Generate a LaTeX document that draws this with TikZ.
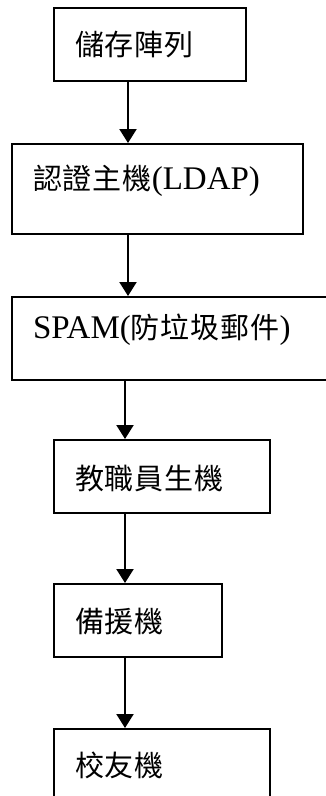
\documentclass[tikz,border=0pt]{standalone}
\usepackage{fontspec}
\setmainfont{Liberation Serif}
\newfontfamily\cjk[Scale=0.88,LetterSpace=3]{Noto Sans CJK TC}
\usetikzlibrary{arrows.meta}

\begin{document}
\begin{tikzpicture}[x=1pt,y=-1pt,
	box/.style={draw,line width=2pt,anchor=north west,align=left,inner xsep=21pt,inner ysep=0pt,font=\fontsize{33}{33}\selectfont},
	to/.style={-{Triangle[width=17pt,length=14pt]},line width=2.2pt}]
\fill[white] (0,0) rectangle (326,796);
\clip (0,0) rectangle (326,796);

\node[box,text width=150pt,text height=47pt,text depth=26pt] (sa) at (53,7) {\cjk 儲存陣列};
\node[box,text width=249pt,text height=45pt,text depth=45pt] (ldap) at (11,143) {{\cjk 認證主機}(LDAP)};
\node[box,text width=288pt,text height=41.5pt,text depth=41.5pt] (spam) at (11,296) {SPAM({\cjk 防垃圾郵件})};
\node[box,text width=174pt,text height=49pt,text depth=24pt] (staff) at (53,439) {\cjk 教職員生機};
\node[box,text width=126pt,text height=48pt,text depth=25pt] (backup) at (53,583) {\cjk 備援機};
\node[box,text width=174pt,text height=47pt,text depth=53pt] (alumni) at (53,728) {\cjk 校友機};

\draw[to] (sa.south -| 128,0) -- (ldap.north -| 128,0);
\draw[to] (ldap.south -| 128,0) -- (spam.north -| 128,0);
\draw[to] (spam.south -| 125,0) -- (staff.north -| 125,0);
\draw[to] (staff.south -| 125,0) -- (backup.north -| 125,0);
\draw[to] (backup.south -| 125,0) -- (alumni.north -| 125,0);

\end{tikzpicture}
\end{document}
